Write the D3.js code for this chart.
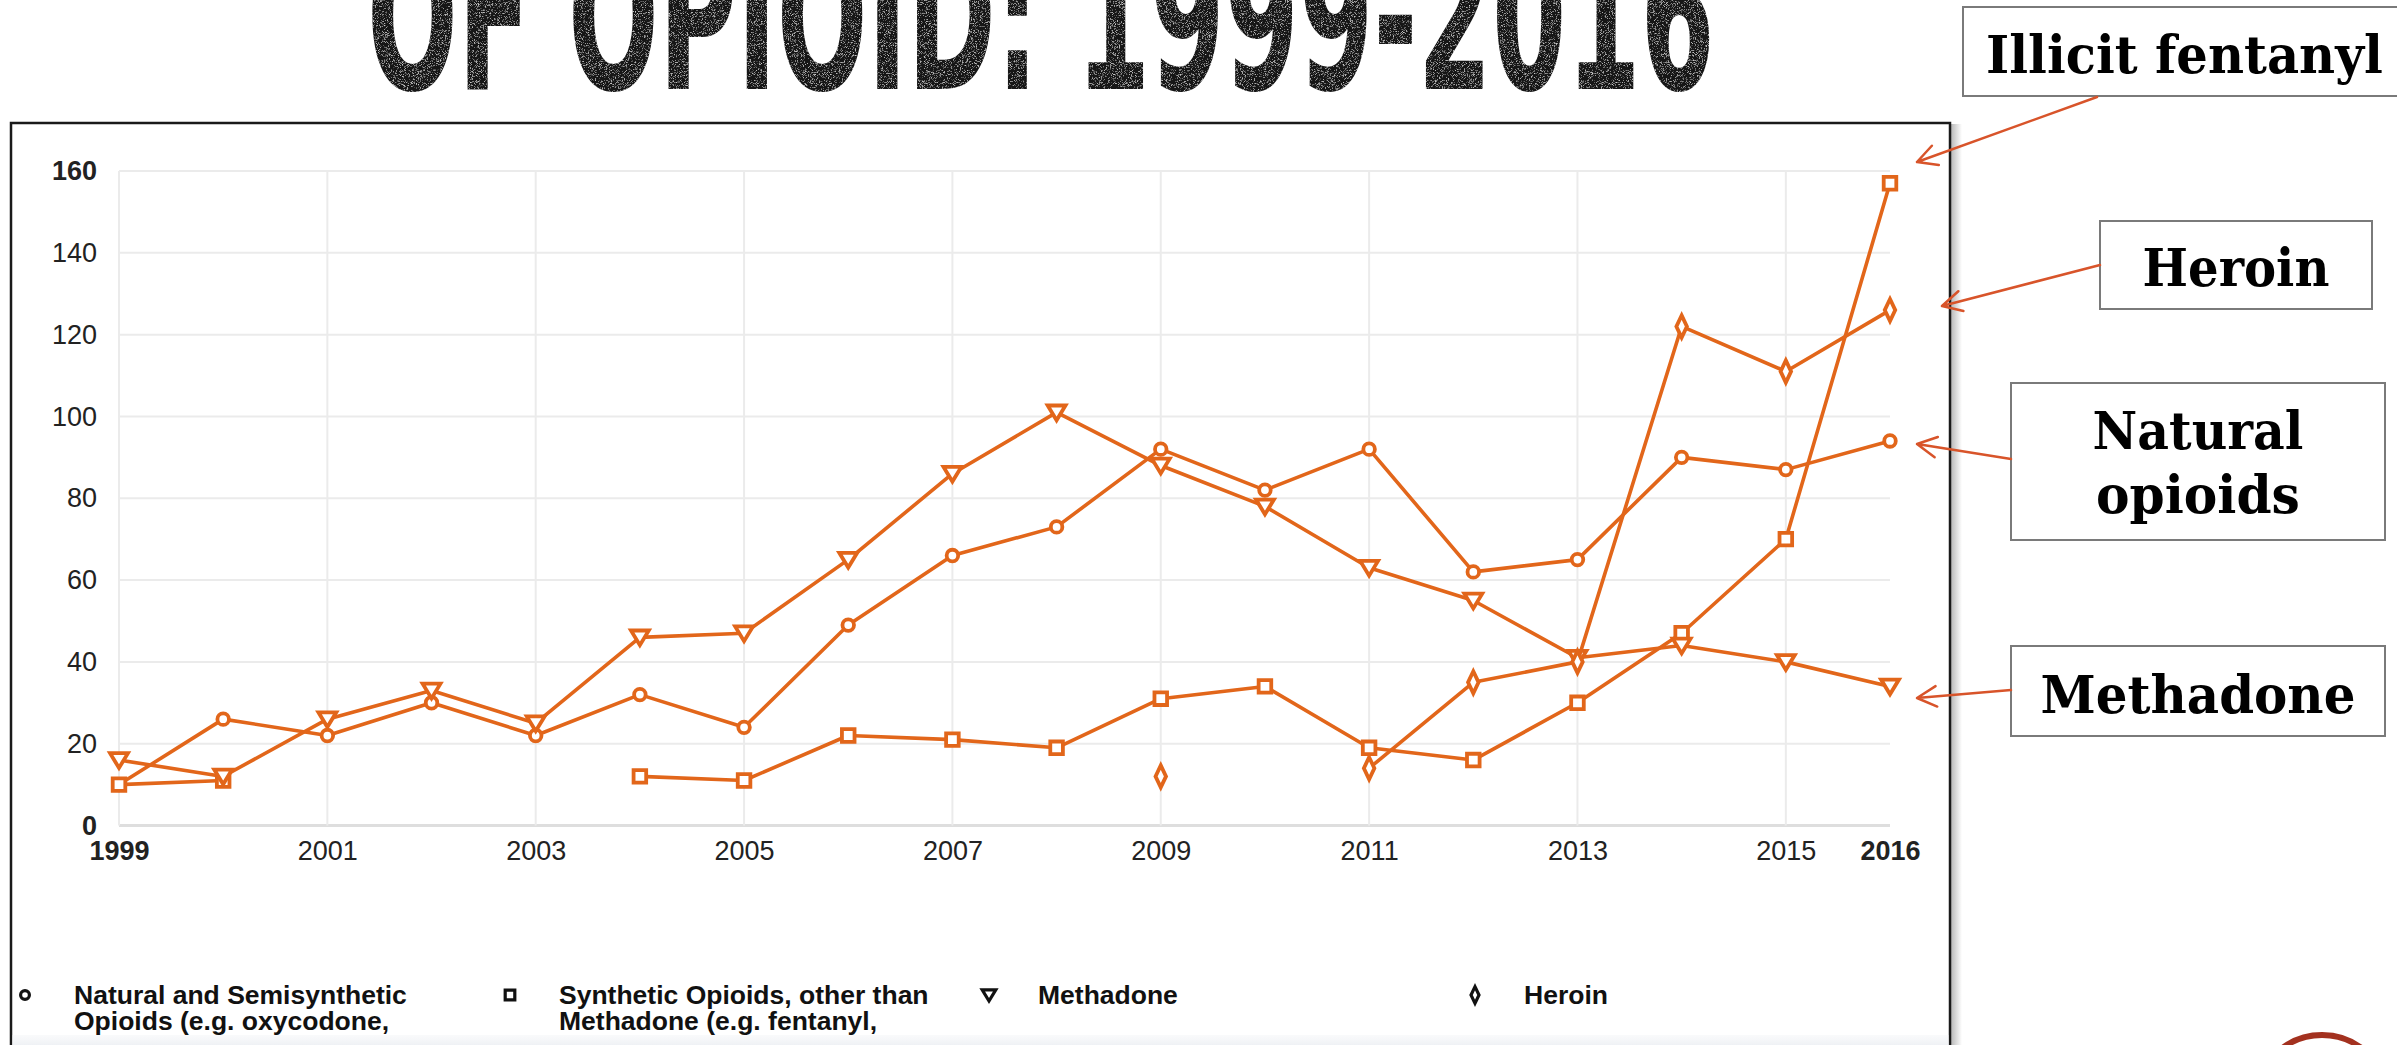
<!DOCTYPE html>
<html>
<head>
<meta charset="utf-8">
<script src="https://cdn.jsdelivr.net/npm/d3@7"></script>
<style>
  html, body { margin: 0; padding: 0; background: #ffffff; overflow: hidden; }
  svg { display: block; }
</style>
</head>
<body>
<svg id="chart" width="2397" height="1045"></svg>
<script>
// ---- data -------------------------------------------------------------
const years = [1999, 2000, 2001, 2002, 2003, 2004, 2005, 2006, 2007, 2008,
               2009, 2010, 2011, 2012, 2013, 2014, 2015, 2016];

const naturalSemi = [10, 26, 22, 30, 22, 32, 24, 49, 66, 73, 92, 82, 92, 62, 65, 90, 87, 94];
const syntheticOther = [10, 11, null, null, null, 12, 11, 22, 21, 19, 31, 34, 19, 16, 30, 47, 70, 157];
const methadone = [16, 12, 26, 33, 25, 46, 47, 65, 86, 101, 88, 78, 63, 55, 41, 44, 40, 34];
const heroin = [null, null, null, null, null, null, null, null, null, null,
                12, null, 14, 35, 40, 122, 111, 126];

const seriesNames = ["Natural and Semisynthetic Opioids", "Synthetic Opioids, other than Methadone",
                     "Methadone", "Heroin"];
const seriesShapes = ["circle", "square", "triangle", "diamond"];

const yTicks = [0, 20, 40, 60, 80, 100, 120, 140, 160];
const xTicks = [1999, 2001, 2003, 2005, 2007, 2009, 2011, 2013, 2015, 2016];
const xGridYears = [1999, 2001, 2003, 2005, 2007, 2009, 2011, 2013, 2015];

const legendLines = [
  ["Natural and Semisynthetic", "Opioids (e.g. oxycodone,"],
  ["Synthetic Opioids, other than", "Methadone (e.g. fentanyl,"],
  ["Methadone"],
  ["Heroin"]
];

const titleText = "OF OPIOID: 1999-2016";
const calloutLabels = [["Illicit fentanyl"], ["Heroin"], ["Natural", "opioids"], ["Methadone"]];

// ---- layout -----------------------------------------------------------
const W = 2397, H = 1045;
const LINE = "#e2661a";
const ARROW = "#d8542a";

const svg = d3.select("#chart");
const defs = svg.append("defs");

const x = d3.scaleLinear().domain([1999, 2016]).range([119, 1890]);
const y = d3.scaleLinear().domain([0, 160]).range([825.5, 171]);

// squeeze a text element horizontally to a target width, anchored at (ax, ay)
function fitWidth(sel, target, ax, ay, anchor) {
  const natural = sel.node().getComputedTextLength();
  const k = target / natural;
  const left = anchor === "middle" ? ax - target / 2 : ax;
  sel.attr("x", 0).attr("y", 0).attr("text-anchor", "start")
    .attr("transform", `translate(${left},${ay}) scale(${k},1)`);
}

// grain texture for the headline
const grit = defs.append("filter").attr("id", "grit")
  .attr("x", "0").attr("y", "0").attr("width", "100%").attr("height", "100%");
grit.append("feTurbulence").attr("type", "fractalNoise").attr("baseFrequency", "0.9")
  .attr("numOctaves", 2).attr("seed", 7).attr("result", "noise");
grit.append("feColorMatrix").attr("in", "noise").attr("type", "matrix")
  .attr("values", "0 0 0 0 0.62  0 0 0 0 0.62  0 0 0 0 0.62  0 0 0 -3.2 1.45")
  .attr("result", "specks");
grit.append("feComposite").attr("in", "specks").attr("in2", "SourceGraphic")
  .attr("operator", "in").attr("result", "speckIn");
const gm = grit.append("feMerge");
gm.append("feMergeNode").attr("in", "SourceGraphic");
gm.append("feMergeNode").attr("in", "speckIn");

// right-edge shadow of the chart panel
const shadow = defs.append("linearGradient").attr("id", "panelShadow")
  .attr("x1", "0").attr("x2", "1").attr("y1", "0").attr("y2", "0");
shadow.append("stop").attr("offset", "0").attr("stop-color", "#b9b9b9");
shadow.append("stop").attr("offset", "1").attr("stop-color", "#ffffff");

const fade = defs.append("linearGradient").attr("id", "bottomFade")
  .attr("x1", "0").attr("x2", "0").attr("y1", "0").attr("y2", "1");
fade.append("stop").attr("offset", "0").attr("stop-color", "#f6f7f9").attr("stop-opacity", 0.6);
fade.append("stop").attr("offset", "1").attr("stop-color", "#eceff3").attr("stop-opacity", 1);

// ---- headline (runs off the top edge) ---------------------------------
const title = svg.append("text")
  .attr("fill", "#141414")
  .attr("filter", "url(#grit)")
  .style("font-family", "'DejaVu Sans Condensed', 'DejaVu Sans', sans-serif")
  .style("font-weight", "bold")
  .style("font-size", "205px")
  .text(titleText);
fitWidth(title, 1348, 367, 89, "start");

// ---- chart panel ------------------------------------------------------
svg.append("rect").attr("x", 1951).attr("y", 124).attr("width", 11).attr("height", H - 124)
  .attr("fill", "url(#panelShadow)");
svg.append("rect").attr("x", 11).attr("y", 123).attr("width", 1939).attr("height", H)
  .attr("fill", "#ffffff").attr("stroke", "#1a1a1a").attr("stroke-width", 2.5);

const plot = svg.append("g");

// gridlines
plot.append("g").selectAll("line").data(yTicks).join("line")
  .attr("x1", x(1999)).attr("x2", x(2016))
  .attr("y1", d => y(d)).attr("y2", d => y(d))
  .attr("stroke", d => d === 0 ? "#dedede" : "#ebebeb")
  .attr("stroke-width", d => d === 0 ? 3 : 2);
plot.append("g").selectAll("line").data(xGridYears).join("line")
  .attr("x1", d => x(d)).attr("x2", d => x(d))
  .attr("y1", y(160)).attr("y2", y(0))
  .attr("stroke", "#ebebeb").attr("stroke-width", 2);

// axes
const yAxis = plot.append("g").attr("transform", `translate(${x(1999)},0)`)
  .call(d3.axisLeft(y).tickValues(yTicks).tickSize(0).tickPadding(22));
const xAxis = plot.append("g").attr("transform", `translate(0,${y(0)})`)
  .call(d3.axisBottom(x).tickValues(xTicks).tickFormat(d3.format("d")).tickSize(0).tickPadding(15));
[yAxis, xAxis].forEach(a => {
  a.select(".domain").remove();
  a.selectAll("text")
    .style("font-family", "'Liberation Sans', Arial, sans-serif")
    .style("font-size", "27px")
    .attr("fill", "#222");
});
yAxis.selectAll("text").style("font-weight", d => (d === 0 || d === 160) ? "bold" : "normal");
xAxis.selectAll("text").style("font-weight", d => (d === 1999 || d === 2016) ? "bold" : "normal");

// marker shapes
function shapePath(type, s) {
  switch (type) {
    case "square":   return `M${-6*s},${-6*s}H${6*s}V${6*s}H${-6*s}Z`;
    case "triangle": return `M${-8.5*s},${-6.5*s}H${8.5*s}L0,${7.5*s}Z`;
    case "diamond":  return `M0,${-10.5*s}L${5*s},0L0,${10.5*s}L${-5*s},0Z`;
    default: {
      const r = 5.5 * s;
      return `M${r},0A${r},${r} 0 1,1 ${-r},0A${r},${r} 0 1,1 ${r},0Z`;
    }
  }
}

const seriesValues = [naturalSemi, syntheticOther, methadone, heroin];
const line = d3.line()
  .defined(d => d.v !== null)
  .x(d => x(d.year)).y(d => y(d.v));

seriesValues.forEach((vals, i) => {
  const pts = years.map((yr, j) => ({ year: yr, v: vals[j] }));
  const g = plot.append("g").attr("class", "series").attr("data-name", seriesNames[i]);
  g.append("path").datum(pts).attr("d", line)
    .attr("fill", "none").attr("stroke", LINE).attr("stroke-width", 3.6)
    .attr("stroke-linejoin", "round");
  g.selectAll("path.mark").data(pts.filter(d => d.v !== null)).join("path")
    .attr("class", "mark")
    .attr("transform", d => `translate(${x(d.year)},${y(d.v)})`)
    .attr("d", shapePath(seriesShapes[i], 1.05))
    .attr("fill", "#ffffff").attr("stroke", LINE).attr("stroke-width", 3.8);
});

// legend
const legendX = [25, 510, 989, 1475];
const legend = svg.append("g");
legendLines.forEach((lines, i) => {
  legend.append("path")
    .attr("transform", `translate(${legendX[i]},995)`)
    .attr("d", shapePath(seriesShapes[i], 0.8))
    .attr("fill", "#ffffff").attr("stroke", "#111").attr("stroke-width", 3.2);
  const t = legend.append("text")
    .attr("x", legendX[i] + 49).attr("y", 1004)
    .attr("fill", "#111")
    .style("font-family", "'Liberation Sans', Arial, sans-serif")
    .style("font-weight", "bold")
    .style("font-size", "26.5px");
  lines.forEach((ln, k) => {
    t.append("tspan").attr("x", legendX[i] + 49).attr("y", 1004 + k * 26).text(ln);
  });
});
svg.append("rect").attr("x", 12.5).attr("y", 1035).attr("width", 1936).attr("height", 12)
  .attr("fill", "url(#bottomFade)");

// ---- callouts ----------------------------------------------------------
const callouts = [
  { box: [1963, 7, 436, 89],    lines: calloutLabels[0], cx: 2184.5, base: [73],       width: [397],      from: [2097, 97],  to: [1917, 162] },
  { box: [2100, 221, 272, 88],  lines: calloutLabels[1], cx: 2236,   base: [286],      width: [187],      from: [2100, 265], to: [1942, 306] },
  { box: [2011, 383, 374, 157], lines: calloutLabels[2], cx: 2198,   base: [449, 513], width: [211, 204], from: [2011, 459], to: [1917, 444] },
  { box: [2011, 646, 374, 90],  lines: calloutLabels[3], cx: 2198,   base: [713],      width: [315],      from: [2011, 690], to: [1917, 698] }
];

const ann = svg.append("g");
callouts.forEach(c => {
  const [bx, by, bw, bh] = c.box;
  ann.append("rect").attr("x", bx).attr("y", by).attr("width", bw).attr("height", bh)
    .attr("fill", "#ffffff").attr("stroke", "#7a7a7a").attr("stroke-width", 2);
  c.lines.forEach((ln, k) => {
    const t = ann.append("text")
      .attr("fill", "#000")
      .style("font-family", "'DejaVu Serif', serif")
      .style("font-weight", "bold")
      .style("font-size", "53px")
      .text(ln);
    fitWidth(t, c.width[k], c.cx, c.base[k], "middle");
  });
  // arrow shaft and open head
  const [x0, y0] = c.from, [x1, y1] = c.to;
  const ang = Math.atan2(y0 - y1, x0 - x1);
  const len = 22, spread = Math.PI / 6.5;
  const a1 = [x1 + len * Math.cos(ang + spread), y1 + len * Math.sin(ang + spread)];
  const a2 = [x1 + len * Math.cos(ang - spread), y1 + len * Math.sin(ang - spread)];
  ann.append("path")
    .attr("d", `M${x0},${y0}L${x1},${y1}M${a1[0]},${a1[1]}L${x1},${y1}L${a2[0]},${a2[1]}`)
    .attr("fill", "none").attr("stroke", ARROW).attr("stroke-width", 2.5)
    .attr("stroke-linecap", "round").attr("stroke-linejoin", "round");
});

// badge ring peeking in at the lower right
svg.append("circle").attr("cx", 2322).attr("cy", 1101).attr("r", 66)
  .attr("fill", "none").attr("stroke", "#a3311f").attr("stroke-width", 6);
</script>
</body>
</html>
